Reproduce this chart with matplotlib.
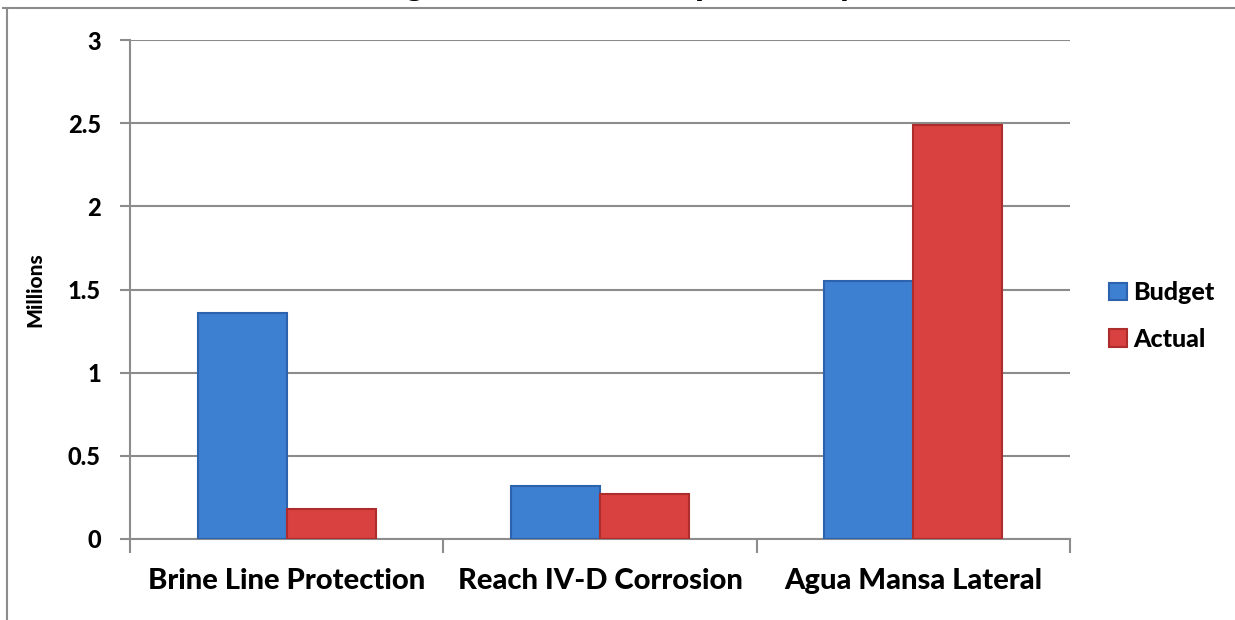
import matplotlib.pyplot as plt
import numpy as np
from matplotlib.lines import Line2D

# Datos (millones)
projects = ["Brine Line Protection", "Reach IV-D Corrosion", "Agua Mansa Lateral"]
budget = [1.36, 0.32, 1.55]
actual = [0.18, 0.27, 2.49]
series_names = ["Budget", "Actual"]
yticks = [0, 0.5, 1, 1.5, 2, 2.5, 3]
ytick_labels = ["0", "0.5", "1", "1.5", "2", "2.5", "3"]
title = "Budget vs. Actual Comparison by Task"

plt.rcParams['font.family'] = ['Lato', 'DejaVu Sans']
wt = 'black'

W, H = 1235, 620
fig = plt.figure(figsize=(W / 100, H / 100), dpi=100)
ax = fig.add_axes([130 / W, 1 - 539 / H, (1070 - 130) / W, (539 - 40) / H])

grey = "#8c8c8c"
blue, blue_edge = "#3d7fd0", "#2c62ae"
red, red_edge = "#d94040", "#ad2c2c"

x = np.arange(len(projects))
w = 0.284
ax.bar(x - w / 2, budget, w, color=blue, edgecolor=blue_edge, linewidth=1.5,
       label=series_names[0], zorder=3)
ax.bar(x + w / 2, actual, w, color=red, edgecolor=red_edge, linewidth=1.5,
       label=series_names[1], zorder=3)

ax.set_xlim(-0.5, len(projects) - 0.5)
ax.set_ylim(0, 3)
ax.set_yticks(yticks)
ax.set_yticklabels(ytick_labels, fontsize=17, fontweight=wt)
ax.yaxis.grid(True, color=grey, linewidth=1.5, zorder=0)
ax.set_axisbelow(True)

# Marcas del eje X en los límites de cada categoría
ax.set_xticks(np.arange(len(projects) + 1) - 0.5)
ax.set_xticklabels([])
ax.set_xticks(x, minor=True)
ax.set_xticklabels(projects, minor=True, fontsize=21, fontweight=wt)
ax.tick_params(axis='x', which='major', length=10, width=1.5, color=grey)
ax.tick_params(axis='x', which='minor', length=0, pad=21)
ax.tick_params(axis='y', length=7, width=1.5, color=grey, pad=14)

for side in ["top", "right"]:
    ax.spines[side].set_visible(False)
for side in ["left", "bottom"]:
    ax.spines[side].set_color(grey)
    ax.spines[side].set_linewidth(1.5)

ax.set_ylabel("Millions", fontsize=15, fontweight=wt, labelpad=17)

ax.legend(loc="center left", bbox_to_anchor=(1.018, 0.447), frameon=False,
          handlelength=0.7, handleheight=0.7, handletextpad=0.25,
          labelspacing=0.95, prop={'weight': wt, 'size': 18})

# Marco del área del gráfico
fig.add_artist(Line2D([3 / W, 1], [1 - 8 / H, 1 - 8 / H], color=grey, linewidth=1.5))
fig.add_artist(Line2D([7 / W, 7 / W], [0, 1 - 8 / H], color=grey, linewidth=1.5))

# El título queda cortado por arriba: solo asoman los trazos descendentes
fig.text(640 / W, 1 + 5 / H, title, ha="center", va="baseline",
         fontsize=25, fontweight=wt)

plt.savefig("out.png", dpi=100)
plt.close()
